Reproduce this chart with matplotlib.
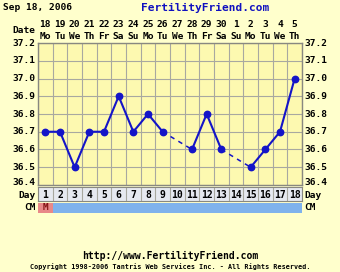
import numpy as np
import matplotlib
matplotlib.use("Agg")
import matplotlib.pyplot as plt

days = list(range(1, 19))
dates = ["18", "19", "20", "21", "22", "23", "24", "25", "26",
         "27", "28", "29", "30", "1", "2", "3", "4", "5"]
weekdays = ["Mo", "Tu", "We", "Th", "Fr", "Sa", "Su", "Mo", "Tu",
            "We", "Th", "Fr", "Sa", "Su", "Mo", "Tu", "We", "Th"]
temps = [36.7, 36.7, 36.5, 36.7, 36.7, 36.9, 36.7, 36.8, 36.7,
         None, 36.6, 36.8, 36.6, None, 36.5, 36.6, 36.7, 37.0]
cm = ["M"] + [""] * 17
yticks = [36.4, 36.5, 36.6, 36.7, 36.8, 36.9, 37.0, 37.1, 37.2]

W, H = 340, 272
font = dict(family="DejaVu Sans Mono", weight="bold")
bg_out = "#ffffcc"
bg_plot = "#fdf9b0"
grid_c = "#a8a8a0"
line_c = "#1414c8"

fig = plt.figure(figsize=(W / 100, H / 100), dpi=100, facecolor=bg_out)

def px_axes(x0, y0, x1, y1):
    return fig.add_axes([x0 / W, 1 - y1 / H, (x1 - x0) / W, (y1 - y0) / H])

ax = px_axes(38, 43, 302, 185)
ax.set_facecolor(bg_plot)
ax.set_xlim(0.5, 18.5)
ax.set_ylim(36.4, 37.2)
ax.set_xticks(np.arange(0.5, 18.6, 1))
ax.set_yticks(yticks)
ax.grid(True, color=grid_c, lw=0.8)
ax.tick_params(length=0, labelbottom=False, labelleft=False)
for s in ax.spines.values():
    s.set_color("#888880")
    s.set_linewidth(1)

# solid segments and dashed gaps
x = np.array(days, dtype=float)
y = np.array([t if t is not None else np.nan for t in temps])
ax.plot(x, y, color=line_c, lw=1.5, marker="o", ms=4.6, zorder=3)
valid = [i for i in range(len(temps)) if temps[i] is not None]
for a, b in zip(valid[:-1], valid[1:]):
    if b - a > 1:
        ax.plot([x[a], x[b]], [y[a], y[b]], color=line_c, lw=1.1,
                ls=(0, (3, 3)), zorder=2)

for t in yticks:
    ty = t + 0.012 if t == yticks[0] else t
    ax.text(-0.01, ty, f"{t:.1f}", transform=ax.get_yaxis_transform(),
            ha="right", va="center", fontsize=6.8, **font)
    ax.text(1.01, ty, f"{t:.1f}", transform=ax.get_yaxis_transform(),
            ha="left", va="center", fontsize=6.8, **font)

for d, dt, wd in zip(days, dates, weekdays):
    ax.text(d, 37.2 + 0.105, dt, ha="center", va="center", fontsize=6.8, **font)
    ax.text(d, 37.2 + 0.038, wd, ha="center", va="center", fontsize=6.8, **font)
ax.text(-0.01, 37.2 + 0.07, "Date", transform=ax.get_yaxis_transform(),
        ha="right", va="center", fontsize=6.8, **font)

# day row
axd = px_axes(38, 187, 302, 201)
axd.set_facecolor("#e6e9f0")
axd.set_xlim(0.5, 18.5)
axd.set_ylim(0, 1)
axd.set_xticks(np.arange(0.5, 18.6, 1))
axd.grid(True, axis="x", color=grid_c, lw=0.8)
axd.tick_params(length=0, labelbottom=False, labelleft=False)
for s in axd.spines.values():
    s.set_color("#888880")
for d in days:
    axd.text(d, 0.45, str(d), ha="center", va="center", fontsize=7, **font)
axd.text(-0.01, 0.4, "Day", transform=axd.transAxes, ha="right",
         va="center", fontsize=6.8, **font)
axd.text(1.01, 0.4, "Day", transform=axd.transAxes, ha="left",
         va="center", fontsize=6.8, **font)

# CM row
axc = px_axes(38, 203, 302, 213)
axc.set_facecolor("#7fb2ec")
axc.set_xlim(0.5, 18.5)
axc.set_ylim(0, 1)
axc.tick_params(length=0, labelbottom=False, labelleft=False)
for s in axc.spines.values():
    s.set_visible(False)
for d, c in zip(days, cm):
    if c:
        axc.bar(d, 1, width=1, bottom=0, color="#e88888", edgecolor="none")
        axc.text(d, 0.5, c, ha="center", va="center", fontsize=6.8,
                 color="#801010", **font)
axc.text(-0.01, 0.5, "CM", transform=axc.transAxes, ha="right",
         va="center", fontsize=6.8, **font)
axc.text(1.01, 0.5, "CM", transform=axc.transAxes, ha="left",
         va="center", fontsize=6.8, **font)

fig.text(3 / W, 1 - 8 / H, "Sep 18, 2006", ha="left", va="center",
         fontsize=6.8, **font)
fig.text(205 / W, 1 - 8 / H, "FertilityFriend.com", ha="center",
         va="center", fontsize=8, color="#1010c0", **font)
fig.text(170 / W, 1 - 256 / H, "http://www.FertilityFriend.com",
         ha="center", va="center", fontsize=7, **font)
fig.text(170 / W, 1 - 267 / H,
         "Copyright 1998-2006 Tantris Web Services Inc. - All Rights Reserved.",
         ha="center", va="center", fontsize=4.9, **font)

fig.savefig("out.png", dpi=100, facecolor=bg_out)
